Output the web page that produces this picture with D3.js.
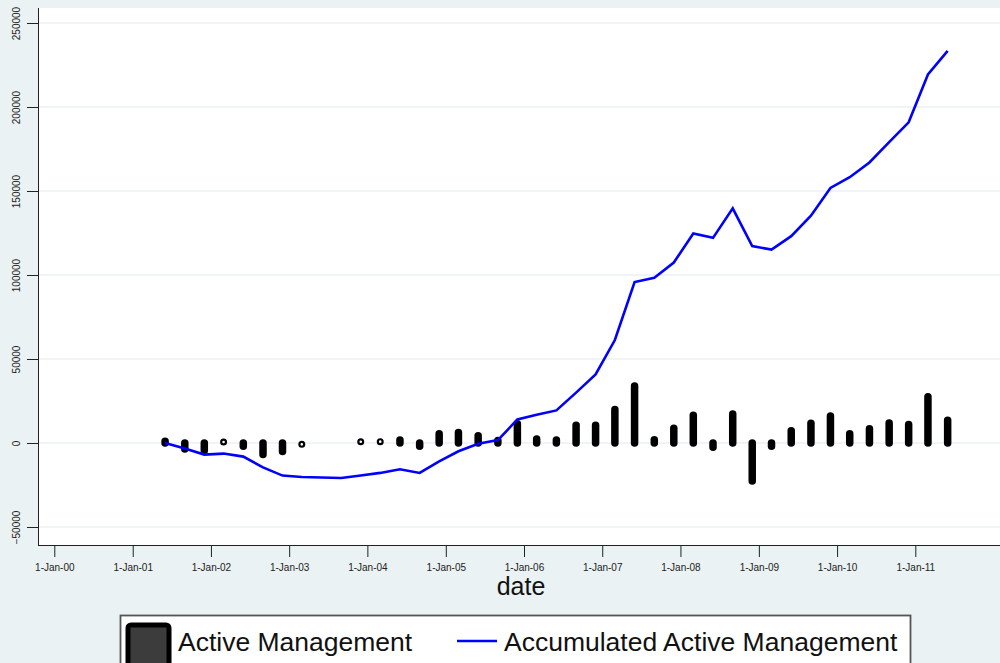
<!DOCTYPE html>
<html>
<head>
<meta charset="utf-8">
<script src="https://cdnjs.cloudflare.com/ajax/libs/d3/7.8.5/d3.min.js"></script>
<style>
  html, body { margin: 0; padding: 0; background: #eaf2f3; }
  svg { display: block; font-family: "Liberation Sans", Arial, sans-serif; }
</style>
</head>
<body>
<svg id="chart" width="1000" height="663"></svg>
<script>
// ---- data (quarterly, first of month) ----
const dates = [
  "2001-06-01","2001-09-01","2001-12-01","2002-03-01","2002-06-01","2002-09-01","2002-12-01",
  "2003-03-01","2003-06-01","2003-09-01","2003-12-01","2004-03-01","2004-06-01","2004-09-01",
  "2004-12-01","2005-03-01","2005-06-01","2005-09-01","2005-12-01","2006-03-01","2006-06-01",
  "2006-09-01","2006-12-01","2007-03-01","2007-06-01","2007-09-01","2007-12-01","2008-03-01",
  "2008-06-01","2008-09-01","2008-12-01","2009-03-01","2009-06-01","2009-09-01","2009-12-01",
  "2010-03-01","2010-06-01","2010-09-01","2010-12-01","2011-03-01","2011-06-01"
];
const activeManagement = [
  1000, -3500, -4500, 600, -2000, -6800, -5000,
  -800, null, null, 700, 800, 1800, -1900,
  5500, 6200, 4300, 1500, 11500, 2400, 1800,
  10500, 10500, 20000, 34000, 2000, 8800, 16500,
  -2500, 17300, -22600, -2000, 7300, 11800, 16000,
  5500, 8500, 11900, 11000, 27500, 13600
];
const accumulatedActiveManagement = [
  0, -3300, -6900, -6300, -8100, -14500, -19400,
  -20200, -20500, -20800, -19300, -17800, -15600, -17800,
  -10900, -4900, -500, 1700, 14000, 16800, 19400,
  30000, 40800, 61300, 95800, 98400, 107400, 124700,
  122100, 139700, 117200, 115100, 123100, 135300, 151800,
  158200, 167000, 179100, 190900, 219400, 233400
];
const yTicks = [-50000, 0, 50000, 100000, 150000, 200000, 250000];
const xTickLabels = ["1-Jan-00","1-Jan-01","1-Jan-02","1-Jan-03","1-Jan-04","1-Jan-05",
                     "1-Jan-06","1-Jan-07","1-Jan-08","1-Jan-09","1-Jan-10","1-Jan-11"];
const xTickDates = ["2000-01-01","2001-01-01","2002-01-01","2003-01-01","2004-01-01","2005-01-01",
                    "2006-01-01","2007-01-01","2008-01-01","2009-01-01","2010-01-01","2011-01-01"];
const xTitle = "date";
const legendLabels = ["Active Management", "Accumulated Active Management"];

// ---- setup ----
const parse = d3.utcParse("%Y-%m-%d");
const svg = d3.select("#chart");
const W = 1000, H = 663;
const plot = { left: 38, top: 8, right: 1000, bottom: 546 };

const x = d3.scaleUtc()
  .domain([parse("2000-01-01"), parse("2011-01-01")])
  .range([54.3, 915.3]);
const y = d3.scaleLinear()
  .domain([-50000, 250000])
  .range([527, 23]);

const BG = "#eaf2f3";
svg.append("rect").attr("width", W).attr("height", H).attr("fill", BG);
svg.append("rect")
  .attr("x", plot.left).attr("y", plot.top)
  .attr("width", plot.right - plot.left).attr("height", plot.bottom - plot.top)
  .attr("fill", "#ffffff");

// gridlines
svg.append("g").selectAll("line").data(yTicks).join("line")
  .attr("x1", plot.left).attr("x2", plot.right)
  .attr("y1", d => y(d)).attr("y2", d => y(d))
  .attr("stroke", BG).attr("stroke-width", 1.6);

// y axis
const yAxis = svg.append("g").attr("transform", `translate(${plot.left},0)`)
  .call(d3.axisLeft(y).tickValues(yTicks).tickSize(11).tickFormat(d3.format("d")));
yAxis.select(".domain").remove();
yAxis.selectAll(".tick line").attr("stroke", "#222").attr("stroke-width", 1);
yAxis.selectAll(".tick text")
  .attr("x", null).attr("dy", null)
  .attr("transform", "translate(-18,0) rotate(-90)")
  .attr("text-anchor", "middle")
  .attr("font-size", 10).attr("fill", "#222")
  .attr("font-family", "Liberation Sans, Arial, sans-serif");
svg.append("line")
  .attr("x1", plot.left + 0.5).attr("x2", plot.left + 0.5)
  .attr("y1", plot.top).attr("y2", plot.bottom)
  .attr("stroke", "#222").attr("stroke-width", 1);

// x axis
const xAxis = svg.append("g").attr("transform", `translate(0,${plot.bottom})`)
  .call(d3.axisBottom(x).tickValues(xTickDates.map(parse)).tickSize(11)
    .tickFormat((d, i) => xTickLabels[i]));
xAxis.select(".domain").remove();
xAxis.selectAll(".tick line").attr("stroke", "#222").attr("stroke-width", 1);
xAxis.selectAll(".tick text")
  .attr("y", 25).attr("dy", null)
  .attr("font-size", 10).attr("fill", "#222")
  .attr("font-family", "Liberation Sans, Arial, sans-serif");
svg.append("line")
  .attr("x1", plot.left).attr("x2", plot.right)
  .attr("y1", plot.bottom - 0.5).attr("y2", plot.bottom - 0.5)
  .attr("stroke", "#222").attr("stroke-width", 1);

svg.append("text")
  .attr("x", 521).attr("y", 595)
  .attr("text-anchor", "middle")
  .attr("font-size", 25).attr("fill", "#111")
  .text(xTitle);

// ---- bars (spikes drawn as round-capped thick bars) ----
const barData = dates.map((d, i) => ({ date: parse(d), v: activeManagement[i] }))
  .filter(d => d.v !== null);
const RING = 1000;
const gBars = svg.append("g");
gBars.selectAll("line").data(barData.filter(d => Math.abs(d.v) >= RING)).join("line")
  .attr("x1", d => x(d.date)).attr("x2", d => x(d.date))
  .attr("y1", y(0))
  .attr("y2", d => y(d.v))
  .attr("stroke", "#000")
  .attr("stroke-width", 7.5)
  .attr("stroke-linecap", "round");
gBars.selectAll("circle").data(barData.filter(d => Math.abs(d.v) < RING)).join("circle")
  .attr("cx", d => x(d.date))
  .attr("cy", d => y(d.v))
  .attr("r", 2.4)
  .attr("fill", "#fff")
  .attr("stroke", "#000")
  .attr("stroke-width", 2.2);

// ---- line ----
const lineData = dates.map((d, i) => ({ date: parse(d), v: accumulatedActiveManagement[i] }));
svg.append("path")
  .datum(lineData)
  .attr("fill", "none")
  .attr("stroke", "#0000ff")
  .attr("stroke-width", 2.6)
  .attr("stroke-linejoin", "miter")
  .attr("d", d3.line().x(d => x(d.date)).y(d => y(d.v)));

// ---- legend ----
const lg = svg.append("g");
lg.append("rect")
  .attr("x", 120.5).attr("y", 615.5).attr("width", 790).attr("height", 60)
  .attr("fill", "#fff").attr("stroke", "#555").attr("stroke-width", 1.8);
lg.append("rect")
  .attr("x", 128).attr("y", 625).attr("width", 41).attr("height", 45)
  .attr("rx", 3)
  .attr("fill", "#3c3c3c").attr("stroke", "#000").attr("stroke-width", 5)
  .attr("stroke-linejoin", "round");
lg.append("text")
  .attr("x", 178).attr("y", 651)
  .attr("font-size", 26.5).attr("fill", "#111")
  .text(legendLabels[0]);
lg.append("line")
  .attr("x1", 457).attr("x2", 497).attr("y1", 641).attr("y2", 641)
  .attr("stroke", "#0000ff").attr("stroke-width", 2.6);
lg.append("text")
  .attr("x", 504).attr("y", 651)
  .attr("font-size", 26.5).attr("fill", "#111")
  .text(legendLabels[1]);
</script>
</body>
</html>
